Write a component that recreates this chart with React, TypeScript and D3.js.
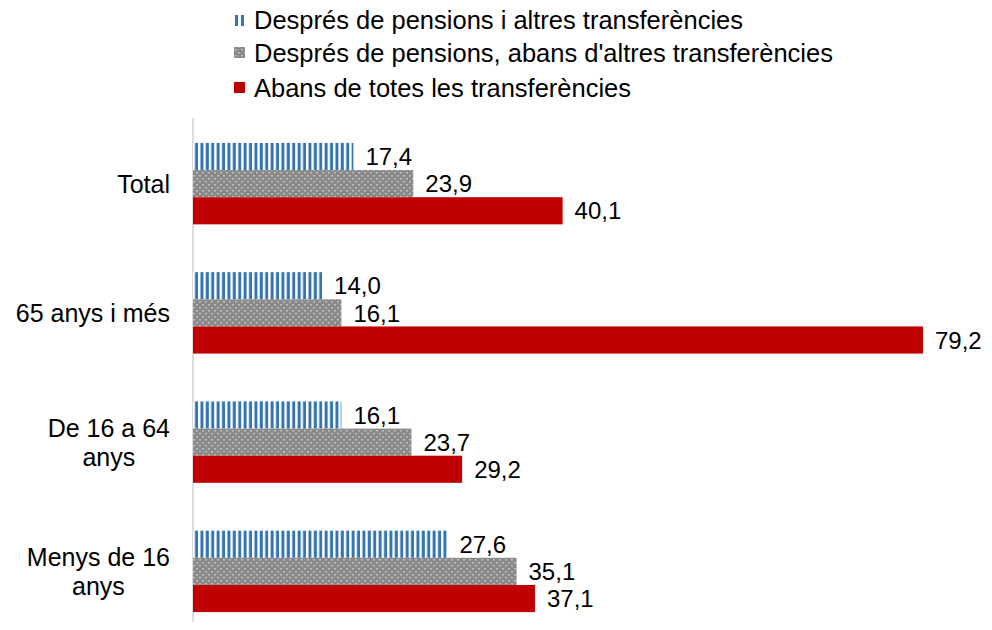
import React, { useEffect, useRef } from "react";
import * as d3 from "d3";

const categories = ["Total", "65 anys i més", "De 16 a 64 anys", "Menys de 16 anys"];
const categoryLines = [["Total"], ["65 anys i més"], ["De 16 a 64", "anys"], ["Menys de 16", "anys"]];
const seriesNames = [
  "Després de pensions i altres transferències",
  "Després de pensions, abans d'altres transferències",
  "Abans de totes les transferències",
];
const afterAll = [17.4, 14.0, 16.1, 27.6];
const afterPensions = [23.9, 16.1, 23.7, 35.1];
const beforeAll = [40.1, 79.2, 29.2, 37.1];

const fmt = (v: number) => v.toFixed(1).replace(".", ",");

export default function App() {
  const svgRef = useRef<SVGSVGElement>(null);

  useEffect(() => {
    const height = 630;
    const svg = d3.select(svgRef.current);
    svg.selectAll("*").remove();
    const font = "'Liberation Sans', Arial, sans-serif";

    const defs = svg.append("defs");
    const stripes = defs.append("pattern")
      .attr("id", "stripes").attr("patternUnits", "userSpaceOnUse")
      .attr("width", 5.4).attr("height", 10);
    stripes.append("rect").attr("width", 5.4).attr("height", 10).attr("fill", "#fff");
    stripes.append("rect").attr("x", 0.6).attr("width", 3).attr("height", 10).attr("fill", "#3474b0");

    const dots = defs.append("pattern")
      .attr("id", "dots").attr("patternUnits", "userSpaceOnUse")
      .attr("width", 6).attr("height", 6);
    dots.append("rect").attr("width", 6).attr("height", 6).attr("fill", "#8a8a8a");
    dots.append("rect").attr("x", 1).attr("y", 1).attr("width", 2).attr("height", 1.5).attr("fill", "#bdbdbd");
    dots.append("rect").attr("x", 4).attr("y", 4).attr("width", 2).attr("height", 1.5).attr("fill", "#bdbdbd");

    const left = 193;
    const x = d3.scaleLinear().domain([0, 79.2]).range([left, 923]);
    const y = d3.scaleBand<string>().domain(categories).range([119, 636]).paddingInner(0.37).paddingOuter(0.185);
    const sub = d3.scaleBand<number>().domain([0, 1, 2]).range([0, y.bandwidth()]);

    // axis line
    svg.append("line")
      .attr("x1", left).attr("x2", left).attr("y1", 118).attr("y2", height)
      .attr("stroke", "#d0d0d0").attr("stroke-width", 1.5);

    const series = [
      { values: afterAll, fill: "url(#stripes)" },
      { values: afterPensions, fill: "url(#dots)" },
      { values: beforeAll, fill: "#c00000" },
    ];

    series.forEach((s, si) => {
      const g = svg.append("g");
      g.selectAll("rect").data(s.values).join("rect")
        .attr("x", left)
        .attr("y", (_, i) => (y(categories[i]) as number) + (sub(si) as number))
        .attr("width", d => x(d) - left)
        .attr("height", sub.bandwidth())
        .attr("fill", s.fill);
      g.selectAll("text").data(s.values).join("text")
        .attr("x", d => x(d) + 12)
        .attr("y", (_, i) => (y(categories[i]) as number) + (sub(si) as number) + sub.bandwidth() / 2)
        .attr("dy", "0.36em")
        .attr("font-family", font).attr("font-size", 24).attr("fill", "#000")
        .text(d => fmt(d));
    });

    // category labels: lines centred on each other, block right-aligned at x=170
    categoryLines.forEach((lines, i) => {
      const cy = (y(categories[i]) as number) + y.bandwidth() / 2;
      const t = svg.append("text")
        .attr("text-anchor", "middle")
        .attr("font-family", font).attr("font-size", 25).attr("fill", "#000");
      const spans = lines.map((ln, j) =>
        t.append("tspan")
          .attr("y", cy + (j - (lines.length - 1) / 2) * 29)
          .attr("dy", "0.36em")
          .text(ln)
      );
      const maxW = d3.max(spans, sp => (sp.node() as SVGTSpanElement).getComputedTextLength()) || 0;
      spans.forEach(sp => sp.attr("x", 170 - maxW / 2));
    });

    // legend
    const legendY = [20, 53, 88];
    seriesNames.forEach((name, i) => {
      const ly = legendY[i];
      if (i === 0) {
        svg.append("rect").attr("x", 235).attr("y", ly - 5).attr("width", 3).attr("height", 11).attr("fill", "#3474b0");
        svg.append("rect").attr("x", 241).attr("y", ly - 5).attr("width", 3).attr("height", 11).attr("fill", "#3474b0");
      } else {
        svg.append("rect").attr("x", 234).attr("y", ly - 6).attr("width", 11).attr("height", 11)
          .attr("fill", i === 1 ? "url(#dots)" : "#c00000");
      }
      svg.append("text")
        .attr("x", 254).attr("y", ly).attr("dy", "0.36em")
        .attr("font-family", font).attr("font-size", 25.5).attr("fill", "#000")
        .text(name);
    });
  }, []);

  return (
    <div style={{ margin: -8, width: 992, height: 630, background: "#fff" }}>
      <svg ref={svgRef} width={992} height={630} style={{ display: "block" }} />
    </div>
  );
}
